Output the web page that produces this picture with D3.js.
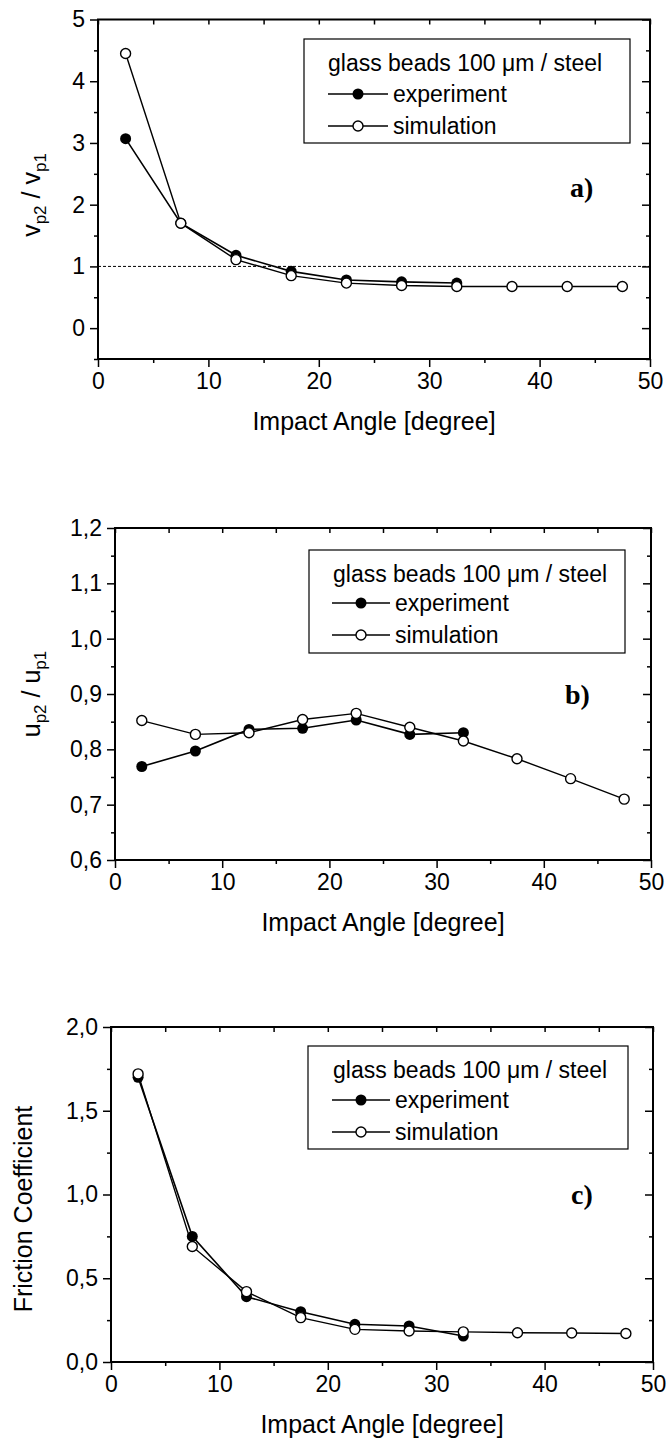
<!DOCTYPE html>
<html>
<head>
<meta charset="utf-8">
<script src="https://cdn.jsdelivr.net/npm/d3@7"></script>
<style>
  body { margin: 0; background: #fff; }
  text { font-family: "Liberation Sans", Arial, sans-serif; fill: #000; }
  .tick line { stroke: #000; stroke-width: 1.5; }
  .legend-text { font-size: 23px; }
  .title { font-size: 25px; }
  .panel-label { font-family: "Liberation Serif", "Times New Roman", serif; font-weight: bold; font-size: 28px; }
</style>
</head>
<body>
<div id="chart"></div>
<script>
var angles = [2.5, 7.5, 12.5, 17.5, 22.5, 27.5, 32.5, 37.5, 42.5, 47.5];

// a) velocity ratio
var expA = [3.07, 1.70, 1.18, 0.92, 0.78, 0.75, 0.73];
var simA = [4.45, 1.70, 1.11, 0.85, 0.73, 0.69, 0.675, 0.675, 0.675, 0.675];

// b) tangential velocity ratio
var expB = [0.769, 0.797, 0.836, 0.838, 0.853, 0.827, 0.830];
var simB = [0.852, 0.827, 0.830, 0.854, 0.865, 0.840, 0.815, 0.783, 0.747, 0.710];

// c) friction coefficient
var expC = [1.70, 0.75, 0.39, 0.30, 0.225, 0.215, 0.155];
var simC = [1.72, 0.69, 0.42, 0.265, 0.195, 0.185, 0.18, 0.175, 0.173, 0.17];

var xTicks = [0, 10, 20, 30, 40, 50];
var xMinor = [5, 15, 25, 35, 45];
var yTicksA = [0, 1, 2, 3, 4, 5];
var yMinorA = [-0.5, 0.5, 1.5, 2.5, 3.5, 4.5];
var yTicksB = [0.6, 0.7, 0.8, 0.9, 1.0, 1.1, 1.2];
var yMinorB = [0.65, 0.75, 0.85, 0.95, 1.05, 1.15];
var yTicksC = [0, 0.5, 1.0, 1.5, 2.0];
var yMinorC = [0.25, 0.75, 1.25, 1.75];

var legendTitle = "glass beads 100 \u03bcm / steel";
var seriesNames = ["experiment", "simulation"];

var comma = d3.formatLocale({decimal: ",", thousands: ".", grouping: [3], currency: ["", ""]});

var svg = d3.select("#chart")
  .append("svg")
    .attr("width", 669)
    .attr("height", 1440);

function drawPanel(p) {
  var x = d3.scaleLinear().domain([0, 50]).range([p.left, p.right]);
  var y = d3.scaleLinear().domain(p.ydom).range([p.bottom, p.top]);
  var g = svg.append("g");

  // axes: left/bottom outward, top/right inward
  g.append("g").attr("transform", "translate(0," + p.bottom + ")")
    .call(d3.axisBottom(x).tickValues(xTicks).tickSize(8).tickPadding(6).tickFormat(d3.format("d")));
  g.append("g").attr("transform", "translate(0," + p.bottom + ")")
    .call(d3.axisBottom(x).tickValues(xMinor).tickSize(4).tickFormat(""));
  g.append("g").attr("transform", "translate(0," + p.top + ")")
    .call(d3.axisTop(x).tickValues(xTicks.concat(xMinor)).tickSize(-5).tickFormat(""));

  g.append("g").attr("transform", "translate(" + p.left + ",0)")
    .call(d3.axisLeft(y).tickValues(p.yTicks).tickSize(8).tickPadding(5).tickFormat(p.fmt));
  g.append("g").attr("transform", "translate(" + p.left + ",0)")
    .call(d3.axisLeft(y).tickValues(p.yMinor).tickSize(4).tickFormat(""));
  g.append("g").attr("transform", "translate(" + p.right + ",0)")
    .call(d3.axisRight(y).tickValues(p.yTicks).tickSize(-8).tickFormat(""));
  g.append("g").attr("transform", "translate(" + p.right + ",0)")
    .call(d3.axisRight(y).tickValues(p.yMinor).tickSize(-4).tickFormat(""));

  g.selectAll(".domain").remove();
  g.selectAll(".tick text")
    .style("font-size", "23px")
    .style("font-family", "'Liberation Sans', Arial, sans-serif")
    .style("fill", "#000");

  g.append("rect")
    .attr("x", p.left).attr("y", p.top)
    .attr("width", p.right - p.left).attr("height", p.bottom - p.top)
    .attr("fill", "none").attr("stroke", "#000").attr("stroke-width", 2);

  if (p.refLine != null) {
    g.append("line")
      .attr("x1", p.left).attr("x2", p.right)
      .attr("y1", y(p.refLine)).attr("y2", y(p.refLine))
      .attr("stroke", "#000").attr("stroke-width", 1)
      .attr("stroke-dasharray", "3,2");
  }

  var line = d3.line()
    .x(function(d, i) { return x(angles[i]); })
    .y(function(d) { return y(d); });

  g.append("path").datum(p.sim)
    .attr("d", line).attr("fill", "none").attr("stroke", "#000").attr("stroke-width", 1.4);
  g.append("path").datum(p.exp)
    .attr("d", line).attr("fill", "none").attr("stroke", "#000").attr("stroke-width", 1.6);

  g.selectAll(".exp").data(p.exp).enter().append("circle")
    .attr("class", "exp")
    .attr("cx", function(d, i) { return x(angles[i]); })
    .attr("cy", function(d) { return y(d); })
    .attr("r", 5.5).attr("fill", "#000");

  g.selectAll(".sim").data(p.sim).enter().append("circle")
    .attr("class", "sim")
    .attr("cx", function(d, i) { return x(angles[i]); })
    .attr("cy", function(d) { return y(d); })
    .attr("r", 5).attr("fill", "#fff").attr("stroke", "#000").attr("stroke-width", 1.4);

  // legend
  var L = p.legend;
  g.append("rect")
    .attr("x", L.x0).attr("y", L.y0)
    .attr("width", L.x1 - L.x0).attr("height", L.y1 - L.y0)
    .attr("fill", "#fff").attr("stroke", "#000").attr("stroke-width", 1.2);
  g.append("text").attr("class", "legend-text")
    .attr("x", L.tx).attr("y", L.rows[0] + 8).text(legendTitle);
  seriesNames.forEach(function(name, i) {
    var ry = L.rows[i + 1];
    g.append("line")
      .attr("x1", L.lx0).attr("x2", L.lx1).attr("y1", ry).attr("y2", ry)
      .attr("stroke", "#000").attr("stroke-width", i == 0 ? 1.6 : 1.4);
    g.append("circle")
      .attr("cx", (L.lx0 + L.lx1) / 2).attr("cy", ry)
      .attr("r", i == 0 ? 5.5 : 5)
      .attr("fill", i == 0 ? "#000" : "#fff")
      .attr("stroke", i == 0 ? "none" : "#000").attr("stroke-width", 1.4);
    g.append("text").attr("class", "legend-text")
      .attr("x", L.lx1 + 5).attr("y", ry + 8).text(name);
  });

  // panel label
  g.append("text").attr("class", "panel-label")
    .attr("x", p.label[1]).attr("y", p.label[2]).text(p.label[0]);

  // x title
  g.append("text").attr("class", "title")
    .attr("x", (p.left + p.right) / 2).attr("y", p.xTitleY)
    .attr("text-anchor", "middle").text("Impact Angle [degree]");

  // y title
  var yt = g.append("text").attr("class", "title")
    .attr("transform", "translate(" + p.yTitle[0] + "," + p.yTitle[1] + ") rotate(-90)")
    .attr("text-anchor", "middle");
  if (p.ySub) {
    yt.append("tspan").text(p.ySub[0]);
    yt.append("tspan").attr("font-size", 17).attr("dy", 6).text(p.ySub[1]);
    yt.append("tspan").attr("dy", -6).text(" / " + p.ySub[0]);
    yt.append("tspan").attr("font-size", 17).attr("dy", 6).text(p.ySub[2]);
  } else {
    yt.text(p.yText);
  }
}

drawPanel({
  left: 98, right: 650, top: 19.5, bottom: 359, ydom: [-0.5, 5],
  yTicks: yTicksA, yMinor: yMinorA, fmt: d3.format("d"),
  exp: expA, sim: simA, refLine: 1,
  legend: {x0: 304, x1: 630, y0: 39, y1: 143, tx: 328, rows: [63, 94, 126], lx0: 328, lx1: 388},
  label: ["a)", 570, 197],
  xTitleY: 430,
  yTitle: [40, 195], ySub: ["v", "p2", "p1"]
});

drawPanel({
  left: 115, right: 651, top: 528, bottom: 860, ydom: [0.6, 1.2],
  yTicks: yTicksB, yMinor: yMinorB, fmt: comma.format(".1f"),
  exp: expB, sim: simB, refLine: null,
  legend: {x0: 309, x1: 625, y0: 550, y1: 653, tx: 333, rows: [574, 603, 635], lx0: 332, lx1: 390},
  label: ["b)", 565, 704],
  xTitleY: 931,
  yTitle: [40, 694], ySub: ["u", "p2", "p1"]
});

drawPanel({
  left: 111, right: 653, top: 1027, bottom: 1362, ydom: [0, 2],
  yTicks: yTicksC, yMinor: yMinorC, fmt: comma.format(".1f"),
  exp: expC, sim: simC, refLine: null,
  legend: {x0: 308, x1: 628, y0: 1046, y1: 1149, tx: 333, rows: [1070, 1100, 1132], lx0: 332, lx1: 390},
  label: ["c)", 571, 1204],
  xTitleY: 1433,
  yTitle: [32, 1209], yText: "Friction Coefficient"
});
</script>
</body>
</html>
